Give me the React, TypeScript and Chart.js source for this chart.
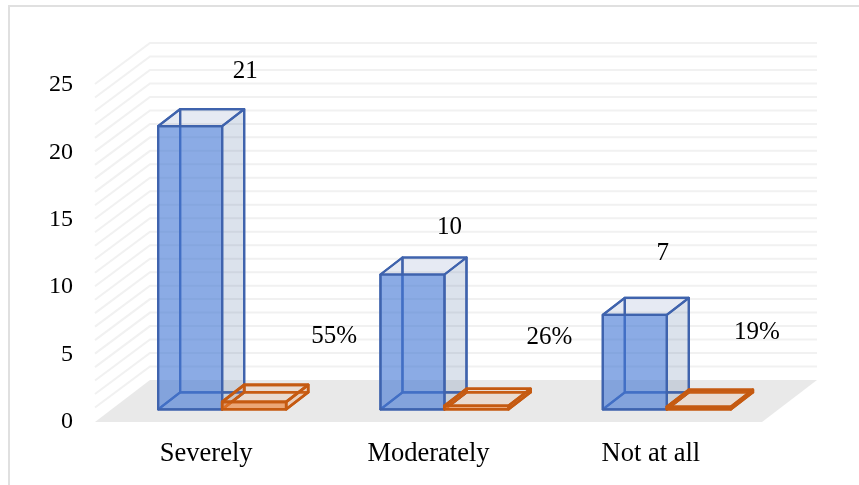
import React, { useEffect, useRef } from "react";
import { Chart, registerables } from "chart.js";

Chart.register(...registerables);

const categories = ["Severely", "Moderately", "Not at all"];
const respondentCounts = [21, 10, 7];
const respondentShares = [0.55, 0.26, 0.19];
const yTickLabels = [0, 5, 10, 15, 20, 25];

// Label placement relative to the top centre of each bar's front face.
const countLabelOffsets = [[55, -55], [37, -47], [28, -62]];
const shareLabelOffsets = [[80, -65], [73, -68], [58, -74]];

const SERIF = '"Liberation Serif", "Times New Roman", serif';
const FLOOR_DEPTH = { x: 55, y: 42 };
const BAR_DEPTH = { x: 22, y: -17 };
const BAR_SHIFT = { x: 16, y: -12.7 };

const faces = [
  { edge: "#3f63ad", line: 2.2, side: "rgba(77,100,150,0.15)", top: "rgba(85,105,155,0.09)", back: "rgba(68,114,196,0.05)" },
  { edge: "#c55a11", line: 2.6, side: "rgba(237,125,49,0.2)", top: "rgba(237,125,49,0.08)", back: "rgba(237,125,49,0.05)" },
];

function polygon(ctx: CanvasRenderingContext2D, pts: number[][], fill: string | null, stroke: string | null, line = 2) {
  ctx.beginPath();
  pts.forEach((p, i) => (i ? ctx.lineTo(p[0], p[1]) : ctx.moveTo(p[0], p[1])));
  ctx.closePath();
  if (fill) {
    ctx.fillStyle = fill;
    ctx.fill();
  }
  if (stroke) {
    ctx.strokeStyle = stroke;
    ctx.lineWidth = line;
    ctx.lineJoin = "round";
    ctx.stroke();
  }
}

function barBox(el: any) {
  return { l: el.x - el.width / 2, r: el.x + el.width / 2, t: el.y, b: el.base };
}

// Frame, floor and the gridded back and side walls.
const wallsPlugin = {
  id: "walls",
  beforeDraw(chart: any) {
    const { ctx, width, height } = chart;
    ctx.save();
    ctx.fillStyle = "#ffffff";
    ctx.fillRect(0, 0, width, height);
    ctx.strokeStyle = "#e0e0e0";
    ctx.lineWidth = 2;
    ctx.beginPath();
    ctx.moveTo(9, height);
    ctx.lineTo(9, 6);
    ctx.lineTo(width, 6);
    ctx.stroke();
    ctx.restore();
  },
  beforeDatasetsDraw(chart: any) {
    const { ctx, chartArea, scales } = chart;
    const { left, right, bottom } = chartArea;
    const dx = FLOOR_DEPTH.x;
    const dy = FLOOR_DEPTH.y;
    ctx.save();
    ctx.strokeStyle = "#f1f1f1";
    ctx.lineWidth = 2;
    scales.y.ticks.forEach((tick: any) => {
      if (tick.value === 0) return;
      const y = scales.y.getPixelForValue(tick.value);
      ctx.beginPath();
      ctx.moveTo(left, y - 1);
      ctx.lineTo(left + dx, y - dy);
      ctx.lineTo(right + dx, y - dy);
      ctx.stroke();
    });
    polygon(
      ctx,
      [[left, bottom], [right, bottom], [right + dx, bottom - dy], [left + dx, bottom - dy]],
      "#e9e9e9",
      null,
    );
    ctx.restore();
  },
};

// Draws each series back to front: hidden faces, the bar elements as front faces, then sides and tops.
const depthPlugin = {
  id: "depth",
  beforeDatasetDraw() {
    return false;
  },
  afterDatasetsDraw(chart: any) {
    const { ctx } = chart;
    const d = BAR_DEPTH;
    ctx.save();
    ctx.translate(BAR_SHIFT.x, BAR_SHIFT.y);
    [0, 1].forEach((index) => {
      const meta = chart.getDatasetMeta(index);
      const style = faces[index];
      meta.data.forEach((el: any) => {
        const { l, r, t, b } = barBox(el);
        polygon(ctx, [[l + d.x, t + d.y], [r + d.x, t + d.y], [r + d.x, b + d.y], [l + d.x, b + d.y]], style.back, style.edge, style.line);
        polygon(ctx, [[l, t], [l + d.x, t + d.y], [l + d.x, b + d.y], [l, b]], style.back, style.edge, style.line);
        polygon(ctx, [[l, b], [r, b], [r + d.x, b + d.y], [l + d.x, b + d.y]], style.back, style.edge, style.line);
      });
      meta.controller.draw();
      meta.data.forEach((el: any) => {
        const { l, r, t, b } = barBox(el);
        polygon(ctx, [[r, t], [r + d.x, t + d.y], [r + d.x, b + d.y], [r, b]], style.side, style.edge, style.line);
        polygon(ctx, [[l, t], [r, t], [r + d.x, t + d.y], [l + d.x, t + d.y]], style.top, style.edge, style.line);
        polygon(ctx, [[l, t], [r, t], [r, b], [l, b]], null, style.edge, style.line);
      });
    });

    ctx.font = `25px ${SERIF}`;
    ctx.fillStyle = "#000000";
    ctx.textAlign = "center";
    ctx.textBaseline = "middle";
    const put = (datasetIndex: number, offsets: number[][], text: (i: number) => string) => {
      chart.getDatasetMeta(datasetIndex).data.forEach((el: any, i: number) => {
        ctx.fillText(text(i), el.x + offsets[i][0], el.y + offsets[i][1]);
      });
    };
    put(0, countLabelOffsets, (i) => String(respondentCounts[i]));
    put(1, shareLabelOffsets, (i) => `${Math.round(respondentShares[i] * 100)}%`);
    ctx.restore();
  },
};

export default function App() {
  const ref = useRef<HTMLCanvasElement>(null);

  useEffect(() => {
    const chart = new Chart(ref.current!, {
      type: "bar",
      data: {
        labels: categories,
        datasets: [
          {
            label: "Respondents",
            data: respondentCounts,
            backgroundColor: "rgba(68,120,213,0.6)",
            borderWidth: 0,
          },
          {
            label: "Share",
            data: respondentShares,
            backgroundColor: "rgba(237,125,49,0.6)",
            borderWidth: 0,
          },
        ],
      },
      options: {
        responsive: false,
        animation: false,
        layout: { padding: { top: 85, right: 97, bottom: 0, left: 0 } },
        datasets: { bar: { categoryPercentage: 0.576, barPercentage: 1 } },
        plugins: { legend: { display: false }, tooltip: { enabled: false } },
        scales: {
          x: {
            grid: { display: false },
            border: { display: false },
            ticks: { color: "#000000", font: { family: SERIF, size: 26.5 }, padding: 8, maxRotation: 0 },
            afterFit(scale: any) {
              scale.height = 63;
            },
          },
          y: {
            min: 0,
            max: 25,
            grid: { display: false },
            border: { display: false },
            ticks: {
              stepSize: 1,
              autoSkip: false,
              color: "#000000",
              font: { family: SERIF, size: 24 },
              padding: 14,
              callback: (v: any) => (yTickLabels.includes(v) ? String(v) : ""),
            },
            afterFit(scale: any) {
              scale.width = 95;
            },
          },
        },
      },
      plugins: [wallsPlugin, depthPlugin],
    } as any);
    return () => chart.destroy();
  }, []);

  return (
    <div style={{ position: "absolute", left: 0, top: 0, width: 859, height: 485 }}>
      <canvas ref={ref} width={859} height={485} style={{ display: "block" }} />
    </div>
  );
}
